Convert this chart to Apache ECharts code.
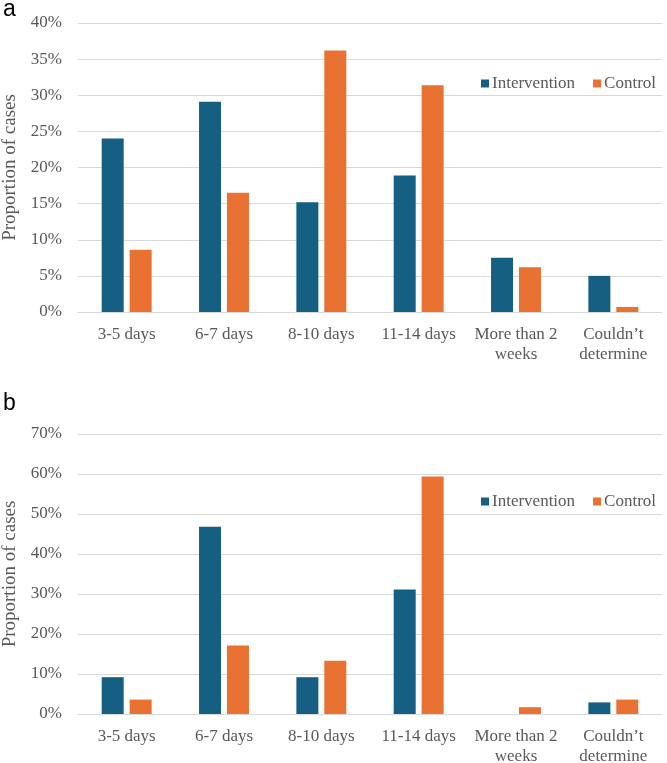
<!DOCTYPE html>
<html>
<head>
<meta charset="utf-8">
<script src="https://cdn.jsdelivr.net/npm/echarts@6/dist/echarts.min.js"></script>
<style>
  html, body { margin: 0; padding: 0; background: #fff; }
  #chart { width: 667px; height: 763px; }
</style>
</head>
<body>
<div id="chart"></div>
<script>
  // categories shared by both panels
  const categories = ['3-5 days', '6-7 days', '8-10 days', '11-14 days', 'More than 2\nweeks', 'Couldn\u2019t\ndetermine']

  // panel a (percent)
  const interventionA = [24.0, 29.1, 15.2, 18.9, 7.5, 5.0]
  const controlA = [8.6, 16.5, 36.2, 31.4, 6.2, 0.7]

  // panel b (percent)
  const interventionB = [9.2, 46.8, 9.2, 31.1, 0, 2.9]
  const controlB = [3.6, 17.1, 13.3, 59.4, 1.7, 3.6]

  const blue = '#156082'
  const orange = '#E97132'
  const gridColor = '#d9d9d9'
  const textColor = '#595959'
  const serif = '"Liberation Serif", "DejaVu Serif", serif'

  const chart = echarts.init(document.getElementById('chart'))

  function xAxis(idx) {
    return {
      type: 'category',
      gridIndex: idx,
      data: categories,
      axisTick: { show: false },
      axisLine: { lineStyle: { color: gridColor, width: 1 } },
      axisLabel: {
        color: textColor,
        fontFamily: serif,
        fontSize: 17,
        lineHeight: 20,
        margin: 13,
        interval: 0
      }
    }
  }

  function yAxis(idx, max, interval) {
    return {
      type: 'value',
      gridIndex: idx,
      min: 0,
      max: max,
      interval: interval,
      name: 'Proportion of cases',
      nameLocation: 'middle',
      nameGap: 58,
      nameTextStyle: { color: textColor, fontFamily: serif, fontSize: 19 },
      axisLine: { show: false },
      axisTick: { show: false },
      axisLabel: {
        color: textColor,
        fontFamily: serif,
        fontSize: 17,
        margin: 16,
        formatter: '{value}%'
      },
      splitLine: { lineStyle: { color: gridColor, width: 1 } }
    }
  }

  function bars(name, data, idx, color) {
    return {
      name: name,
      type: 'bar',
      xAxisIndex: idx,
      yAxisIndex: idx,
      data: data,
      barWidth: 22,
      barGap: '27%',
      itemStyle: { color: color },
      emphasis: { disabled: true }
    }
  }

  chart.setOption({
    backgroundColor: '#fff',
    animation: false,
    graphic: [
      { type: 'text', left: 3, top: -2, style: { text: 'a', font: '23px "Liberation Sans", Arial, sans-serif', fill: '#000' } },
      { type: 'text', left: 3, top: 392, style: { text: 'b', font: '23px "Liberation Sans", Arial, sans-serif', fill: '#000' } }
    ],
    legend: [
      {
        top: 70, left: 476,
        icon: 'rect', itemWidth: 8, itemHeight: 8, itemGap: 18,
        textStyle: { color: textColor, fontFamily: serif, fontSize: 17, padding: [0, 0, 0, -2] },
        data: ['Intervention', 'Control']
      },
      {
        top: 488, left: 476,
        icon: 'rect', itemWidth: 8, itemHeight: 8, itemGap: 18,
        textStyle: { color: textColor, fontFamily: serif, fontSize: 17, padding: [0, 0, 0, -2] },
        data: ['Intervention', 'Control']
      }
    ],
    grid: [
      { left: 78, right: 5, top: 23, bottom: 451, outerBoundsMode: 'none' },
      { left: 78, right: 5, top: 434, bottom: 49, outerBoundsMode: 'none' }
    ],
    xAxis: [xAxis(0), xAxis(1)],
    yAxis: [yAxis(0, 40, 5), yAxis(1, 70, 10)],
    series: [
      bars('Intervention', interventionA, 0, blue),
      bars('Control', controlA, 0, orange),
      bars('Intervention', interventionB, 1, blue),
      bars('Control', controlB, 1, orange)
    ]
  })
</script>
</body>
</html>
